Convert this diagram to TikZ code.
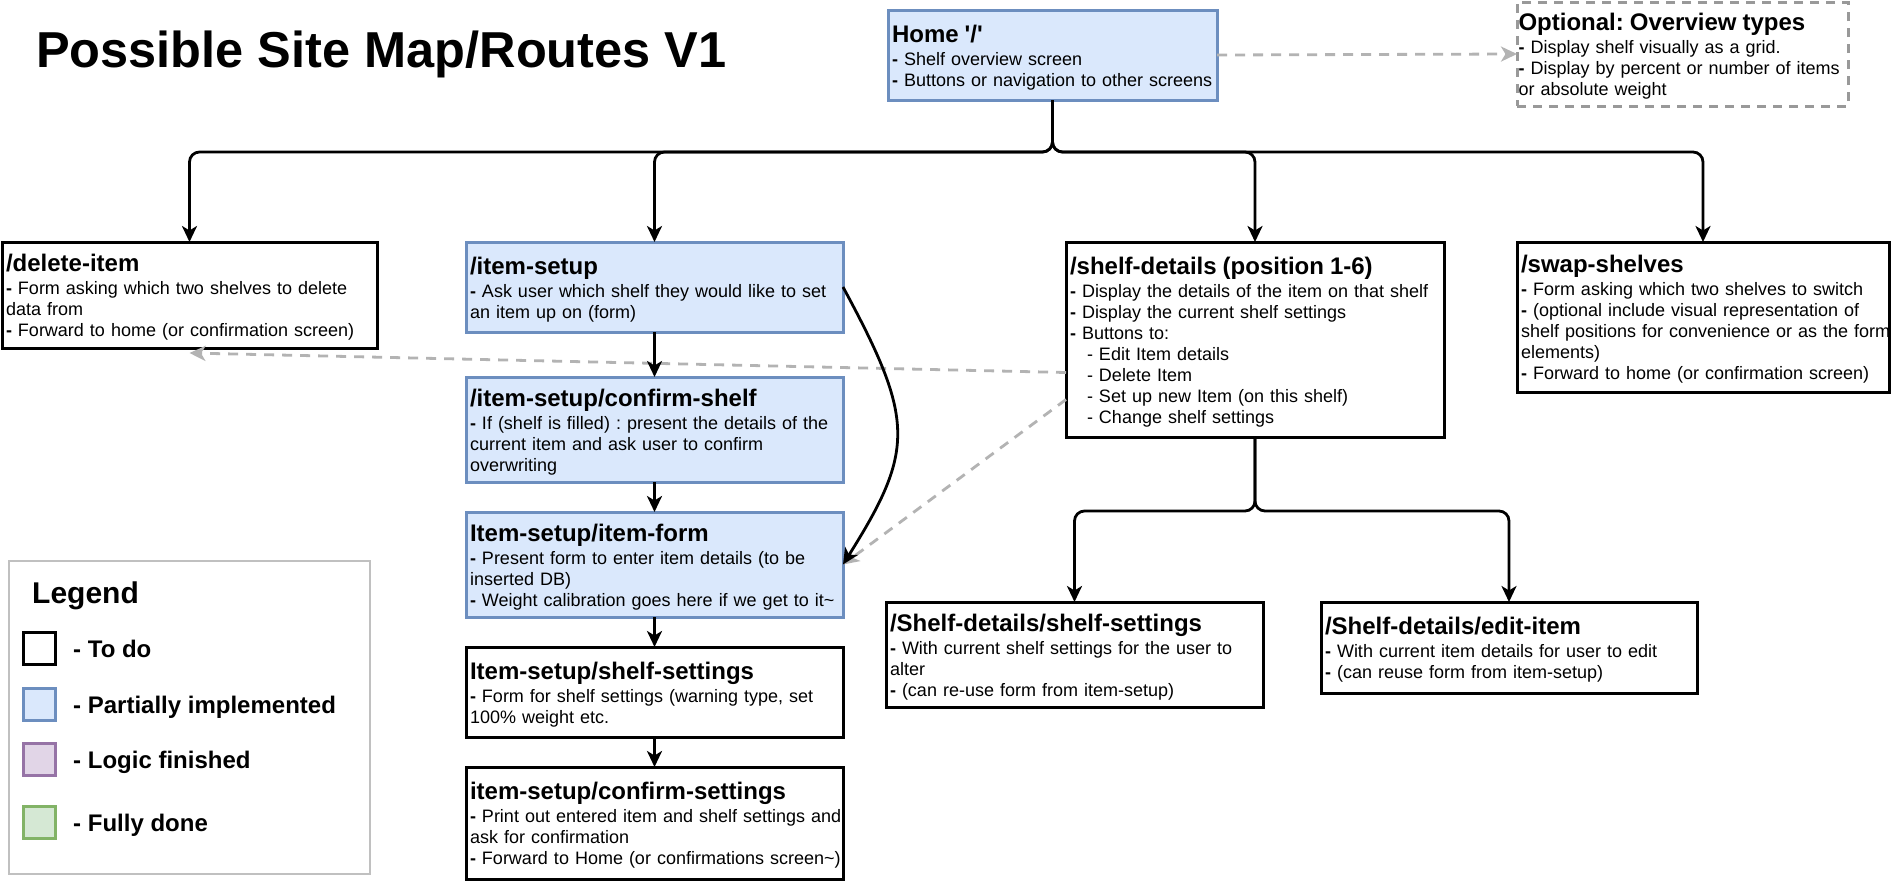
\documentclass[tikz,border=0pt]{standalone}
\usepackage{fontspec}
\setmainfont{Liberation Sans}
\usetikzlibrary{arrows.meta,calc}
\frenchspacing
\definecolor{partfill}{HTML}{DAE8FC}
\definecolor{partline}{HTML}{6C8EBF}
\definecolor{logicfill}{HTML}{E1D5E7}
\definecolor{logicline}{HTML}{9673A6}
\definecolor{donefill}{HTML}{D5E8D4}
\definecolor{doneline}{HTML}{82B366}
\definecolor{edgegray}{HTML}{B3B3B3}
\definecolor{optgray}{HTML}{999999}
\definecolor{legendgray}{HTML}{C0C0C0}
\newcommand\bodyfont{\fontsize{18}{21}\selectfont}
\newcommand\headfont{\fontsize{24}{28}\selectfont\bfseries}
\newcommand\titlefont{\fontsize{50.5}{60}\selectfont\bfseries}
\newcommand\legtitlefont{\fontsize{30}{36}\selectfont\bfseries}
\newcommand\legfont{\fontsize{24}{28}\selectfont\bfseries}
\newcommand\boxhead[1]{{\headfont\rule{0pt}{22.5pt}#1\par}\vspace{2pt}}
\newcommand\bdash{\textbf{-} }
\newcommand\lastline{\rule[-4.5pt]{0pt}{4.5pt}}
\tikzset{
  box/.style={rectangle, line width=3pt, anchor=north west, inner xsep=4pt, inner ysep=0pt, outer sep=0pt, align=left, font=\bodyfont},
  todobox/.style={box, draw=black, fill=white},
  partbox/.style={box, draw=partline, fill=partfill},
  optbox/.style={box, draw=optgray, dash pattern=on 9pt off 7pt, inner xsep=1.5pt},
  edge/.style={draw=black, line width=2.8pt, rounded corners=10pt, -{Stealth[length=16pt,width=15pt,inset=4.5pt]}},
  dashedge/.style={draw=edgegray, line width=2.8pt, dash pattern=on 10pt off 8pt, -{Stealth[length=16pt,width=15pt,inset=4.5pt]}},
  sq/.style={rectangle, minimum size=32pt, line width=3pt, inner sep=0pt, outer sep=0pt},
  legtext/.style={anchor=base west, inner sep=0pt, font=\legfont}
}
\begin{document}
\begin{tikzpicture}[x=1pt,y=-1pt]
\useasboundingbox[fill=white] (0,0) rectangle (1893,881);

\node[anchor=base west, inner sep=0pt, font=\titlefont] (title) at (36,67) {Possible Site Map/Routes V1};

% top
\node[partbox, minimum width=329pt, minimum height=90pt, text width=321pt] (home) at (888,10)
 {\boxhead{Home \textquotesingle/\textquotesingle}\mbox{\bdash Shelf overview screen}\\\mbox{\bdash Buttons or navigation to other screens}\lastline};
\node[optbox, minimum width=331pt, minimum height=104pt, text width=328pt] (optional) at (1517,2)
 {\boxhead{Optional: Overview types}\mbox{\bdash Display shelf visually as a grid.}\\\mbox{\bdash Display by percent or number of items}\\\mbox{or absolute weight}\lastline};

% second row
\node[todobox, minimum width=375pt, minimum height=106pt, text width=367pt] (delete) at (2,242)
 {\boxhead{/delete-item}\mbox{\bdash Form asking which two shelves to delete}\\\mbox{data from}\\\mbox{\bdash Forward to home (or confirmation screen)}\lastline};
\node[partbox, minimum width=377pt, minimum height=90pt, text width=369pt] (itemsetup) at (466,242)
 {\boxhead{/item-setup}\mbox{\bdash Ask user which shelf they would like to set}\\\mbox{an item up on (form)}\lastline};
\node[todobox, minimum width=378pt, minimum height=195pt, text width=370pt] (sd) at (1066,242)
 {\boxhead{/shelf-details (position 1-6)}\mbox{\bdash Display the details of the item on that shelf}\\\mbox{\bdash Display the current shelf settings}\\\mbox{\bdash Buttons to:}\\\mbox{\hspace*{17pt}- Edit Item details}\\\mbox{\hspace*{17pt}- Delete Item}\\\mbox{\hspace*{17pt}- Set up new Item (on this shelf)}\\\mbox{\hspace*{17pt}- Change shelf settings}\lastline};
\node[todobox, minimum width=372pt, minimum height=150pt, text width=364pt] (swap) at (1517,242)
 {\boxhead{/swap-shelves}\mbox{\bdash Form asking which two shelves to switch}\\\mbox{\bdash (optional include visual representation of}\\\mbox{shelf positions for convenience or as the form}\\\mbox{elements)}\\\mbox{\bdash Forward to home (or confirmation screen)}\lastline};

% item-setup column
\node[partbox, minimum width=377pt, minimum height=105pt, text width=369pt] (confirmshelf) at (466,377)
 {\boxhead{/item-setup/confirm-shelf}\mbox{\bdash If (shelf is filled) : present the details of the}\\\mbox{current item and ask user to confirm}\\\mbox{overwriting}\lastline};
\node[partbox, minimum width=377pt, minimum height=105pt, text width=369pt] (itemform) at (466,512)
 {\boxhead{Item-setup/item-form}\mbox{\bdash Present form to enter item details (to be}\\\mbox{inserted DB)}\\\mbox{\bdash Weight calibration goes here if we get to it\textasciitilde}\lastline};
\node[todobox, minimum width=377pt, minimum height=90pt, text width=369pt] (shelfsettings) at (466,647)
 {\boxhead{Item-setup/shelf-settings}\mbox{\bdash Form for shelf settings (warning type, set}\\\mbox{100\% weight etc.}\lastline};
\node[todobox, minimum width=377pt, minimum height=112pt, text width=369pt] (confirmsettings) at (466,767)
 {\boxhead{item-setup/confirm-settings}\mbox{\bdash Print out entered item and shelf settings and}\\\mbox{ask for confirmation}\\\mbox{\bdash Forward to Home (or confirmations screen\textasciitilde)}\lastline};

% shelf-details children
\node[todobox, minimum width=377pt, minimum height=105pt, text width=369pt] (sds) at (886,602)
 {\boxhead{/Shelf-details/shelf-settings}\mbox{\bdash With current shelf settings for the user to}\\\mbox{alter}\\\mbox{\bdash (can re-use form from item-setup)}\lastline};
\node[todobox, minimum width=376pt, minimum height=91pt, text width=368pt] (sde) at (1321,602)
 {\boxhead{/Shelf-details/edit-item}\mbox{\bdash With current item details for user to edit}\\\mbox{\bdash (can reuse form from item-setup)}\lastline};

% legend
\node[rectangle, anchor=north west, draw=legendgray, line width=2.5pt, fill=white, minimum width=361pt, minimum height=313pt, inner sep=0pt, outer sep=0pt] (legend) at (9,561) {};
\node[anchor=base west, inner sep=0pt, font=\legtitlefont] (legendtitle) at (32,603) {Legend};
\node[sq, draw=black, fill=white] (sq1) at (39.5,648.5) {};
\node[sq, draw=partline, fill=partfill] (sq2) at (39.5,704.5) {};
\node[sq, draw=logicline, fill=logicfill] (sq3) at (39.5,759.5) {};
\node[sq, draw=doneline, fill=donefill] (sq4) at (39.5,822.5) {};
\node[legtext] (lab1) at (73,657) {- To do};
\node[legtext] (lab2) at (73,713) {- Partially implemented};
\node[legtext] (lab3) at (73,768) {- Logic finished};
\node[legtext] (lab4) at (73,831) {- Fully done};

% dashed connectors
\coordinate (sdout1) at ($(sd.west)+(0,33)$);
\coordinate (sdout2) at ($(sd.west)+(0,60)$);
\coordinate (delin) at ($(delete.south)+(0,5)$);
\draw[dashedge] (home.east) -- (optional.west);
\draw[dashedge] (sdout1) -- (delin);
\draw[dashedge] (sdout2) -- (itemform.east);

% tree connectors
\draw[edge] (home.south) -- ++(0,52) -| (delete.north);
\draw[edge] (home.south) -- ++(0,52) -| (itemsetup.north);
\draw[edge] (home.south) -- ++(0,52) -| (sd.north);
\draw[edge] (home.south) -- ++(0,52) -| (swap.north);

\draw[edge] (itemsetup.south) -- (confirmshelf.north);
\draw[edge] (confirmshelf.south) -- (itemform.north);
\draw[edge] (itemform.south) -- (shelfsettings.north);
\draw[edge] (shelfsettings.south) -- (confirmsettings.north);

\draw[edge] (itemsetup.east) .. controls (915,420) and (915,450) .. (itemform.east);

\draw[edge] (sd.south) -- ++(0,74) -| (sds.north);
\draw[edge] (sd.south) -- ++(0,74) -| (sde.north);
\end{tikzpicture}
\end{document}
